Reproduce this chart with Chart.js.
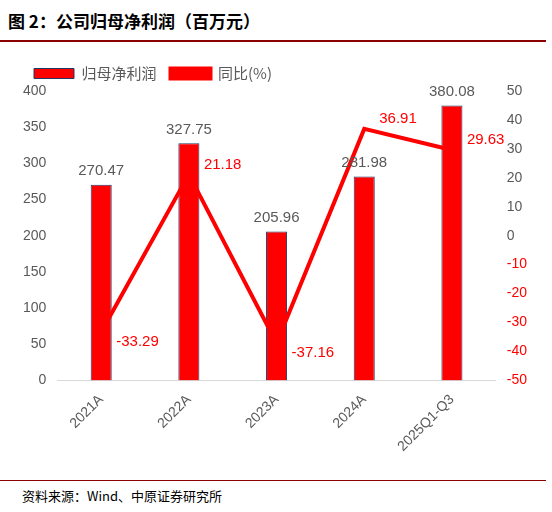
<!DOCTYPE html>
<html lang="zh">
<head>
<meta charset="UTF-8">
<style>
  body { margin: 0; background: #fff; font-family: 'Noto Sans CJK SC', sans-serif; }
  #title { position: absolute; left: 8px; top: 8px; font-size: 17px; font-weight: bold; color: #000; }
  #topline { position: absolute; left: 0; top: 40px; width: 546px; height: 2px; background: #8b0000; }
  #wrap { position: absolute; left: 20px; top: 52px; width: 510px; height: 406px; }
  #botline { position: absolute; left: 0; top: 480px; width: 546px; height: 1px; background: #8b0000; }
  #src { position: absolute; left: 22px; top: 486px; font-size: 13px; color: #000; }
</style>
</head>
<body>
<div id="title">图 2：公司归母净利润（百万元）</div>
<div id="topline"></div>
<div id="wrap"><canvas id="c"></canvas></div>
<div id="botline"></div>
<div id="src">资料来源：Wind、中原证券研究所</div>
<script src="https://cdn.jsdelivr.net/npm/chart.js"></script>
<script>
const categorias = ['2021A', '2022A', '2023A', '2024A', '2025Q1-Q3'];
const lucro = [270.47, 327.75, 205.96, 281.98, 380.08];
const yoy = [-33.29, 21.18, -37.16, 36.91, 29.63];

const rotulos = {
  id: 'rotulos',
  afterDatasetsDraw(chart) {
    const ctx = chart.ctx;
    ctx.save();
    ctx.font = '15px "Liberation Sans", Arial, sans-serif';
    ctx.textAlign = 'center';
    ctx.textBaseline = 'bottom';
    ctx.fillStyle = '#595959';
    chart.getDatasetMeta(0).data.forEach((b, i) => {
      ctx.fillText(lucro[i].toFixed(2), b.x, b.y - 6);
    });
    ctx.fillStyle = '#ff0000';
    ctx.textAlign = 'left';
    ctx.textBaseline = 'middle';
    chart.getDatasetMeta(1).data.forEach((p, i) => {
      const dy = yoy[i] < 0 ? 10 : -10;
      ctx.fillText(yoy[i].toFixed(2), p.x + 15, p.y + dy);
    });
    ctx.restore();
  }
};

new Chart(document.getElementById('c'), {
  data: {
    labels: categorias,
    datasets: [
      { type: 'bar', label: '归母净利润', data: lucro, backgroundColor: '#ff0000', borderColor: '#1f3864', borderWidth: 1, barPercentage: 0.3, yAxisID: 'y', order: 2 },
      { type: 'line', label: '同比(%)', data: yoy, borderColor: '#ff0000', backgroundColor: '#ff0000', borderWidth: 4, pointRadius: 0, pointStyle: 'line', yAxisID: 'y1', order: 1 }
    ]
  },
  options: {
    responsive: true, maintainAspectRatio: false, animation: false,
    plugins: {
      legend: {
        position: 'top', align: 'start',
        labels: {
          font: { size: 15, family: 'Noto Sans CJK SC' }, color: '#595959', boxWidth: 40, boxHeight: 10, padding: 14,
          sort: (a, b) => a.datasetIndex - b.datasetIndex,
          generateLabels: (chart) => {
            const l = Chart.defaults.plugins.legend.labels.generateLabels(chart);
            l.forEach(it => { if (it.datasetIndex === 1) { it.pointStyle = 'line'; it.lineWidth = 4; it.strokeStyle = '#ff0000'; } });
            return l;
          },
          usePointStyle: false
        }
      },
      tooltip: { enabled: false }
    },
    scales: {
      x: { grid: { display: false }, border: { color: '#d9d9d9' }, ticks: { color: '#595959', font: { size: 14 }, maxRotation: 45, minRotation: 45 } },
      y: { position: 'left', min: 0, max: 400, ticks: { stepSize: 50, color: '#595959', font: { size: 14 } }, grid: { display: false }, border: { display: false } },
      y1: { position: 'right', min: -50, max: 50, ticks: { stepSize: 10, color: (c) => c.tick.value < 0 ? '#ff0000' : '#595959', font: { size: 14 } }, grid: { display: false }, border: { display: false } }
    }
  },
  plugins: [rotulos]
});
</script>
</body>
</html>
